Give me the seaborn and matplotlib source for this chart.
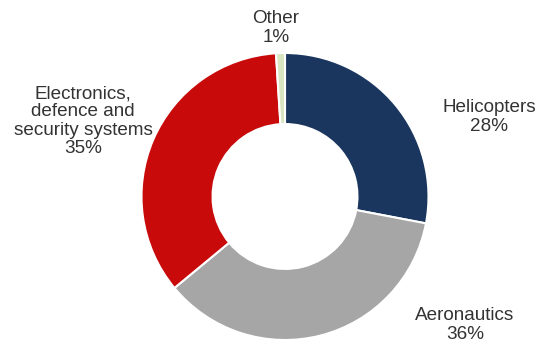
import matplotlib
matplotlib.use("Agg")
import matplotlib.pyplot as plt
import seaborn as sns

sns.set_theme(style="white")
plt.rcParams['font.family'] = ['Liberation Sans', 'DejaVu Sans']

# Revenue share by segment
segments = ["Helicopters", "Aeronautics", "Electronics,\ndefence and\nsecurity systems", "Other"]
shares = [28, 36, 35, 1]
colors = ["#1A365E", "#A6A6A6", "#C80A0A", "#D9E4C0"]

W, H = 542, 349
fig = plt.figure(figsize=(W / 100, H / 100), dpi=100)
fig.patch.set_facecolor("white")

cx, cy, r = 285, 196.5, 143.5
ax = fig.add_axes([(cx - r) / W, (H - cy - r) / H, 2 * r / W, 2 * r / H])

ax.pie(shares, colors=colors, startangle=90, counterclock=False, radius=1,
       wedgeprops=dict(width=0.495, edgecolor="white", linewidth=1.5))
ax.set_xlim(-1, 1)
ax.set_ylim(-1, 1)
ax.set_aspect("auto")
ax.axis("off")

# Label positions in pixel coordinates
label_pos = [(489, 117), (465, 325), (83, 121), (276, 28)]
for name, val, (x, y) in zip(segments, shares, label_pos):
    fig.text(x / W, 1 - y / H, f"{name}\n{val}%", ha="center", va="center",
             fontsize=13.6, color="#333333", linespacing=1.1)

fig.savefig("out.png", dpi=100, facecolor="white")
